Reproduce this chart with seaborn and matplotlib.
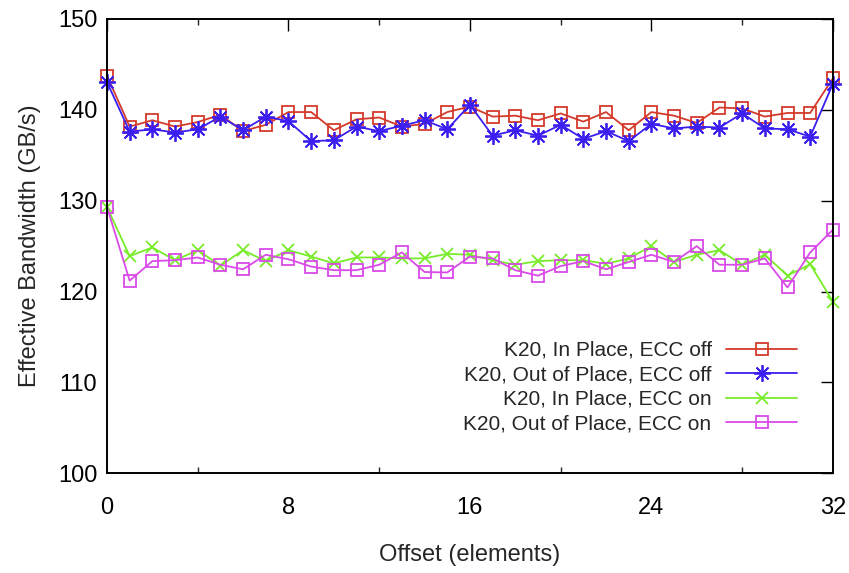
import matplotlib
matplotlib.use("Agg")
import matplotlib.pyplot as plt
import seaborn as sns
from matplotlib.ticker import MultipleLocator

# Offsets (elements) and measured effective bandwidth (GB/s)
offsets = list(range(33))

inplace_ecc_off = [143.75, 138.15, 138.85, 138.15, 138.65, 139.45, 137.65, 138.35, 139.75, 139.75,
                   137.75, 138.95, 139.15, 138.15, 138.45, 139.75, 140.35, 139.25, 139.35, 138.85,
                   139.6, 138.7, 139.75, 137.75, 139.75, 139.35, 138.55, 140.25, 140.15, 139.25,
                   139.65, 139.65, 143.45]
outplace_ecc_off = [143.05, 137.6, 137.85, 137.5, 137.85, 139.25, 137.75, 139.25, 138.75, 136.55,
                    136.65, 138.15, 137.65, 138.25, 138.85, 137.85, 140.55, 137.15, 137.75, 137.15,
                    138.35, 136.8, 137.65, 136.55, 138.45, 137.95, 138.15, 138.05, 139.6, 137.95,
                    137.85, 137.05, 142.85]
inplace_ecc_on = [129.3, 123.9, 124.85, 123.45, 124.55, 122.85, 124.55, 123.35, 124.55, 123.85,
                  123.1, 123.75, 123.75, 123.65, 123.65, 124.15, 124.05, 123.45, 122.95, 123.35,
                  123.45, 123.45, 123.05, 123.65, 125.0, 123.25, 124.05, 124.55, 122.95, 124.05,
                  121.75, 123.0, 118.9]
outplace_ecc_on = [129.3, 121.2, 123.35, 123.45, 123.75, 122.95, 122.45, 124.05, 123.55, 122.75,
                   122.35, 122.35, 122.95, 124.3, 122.15, 122.1, 123.85, 123.65, 122.35, 121.75,
                   122.8, 123.35, 122.45, 123.25, 124.05, 123.25, 125.0, 122.95, 122.95, 123.65,
                   120.45, 124.3, 126.8]

labels = ["K20, In Place, ECC off", "K20, Out of Place, ECC off",
          "K20, In Place, ECC on", "K20, Out of Place, ECC on"]
x_ticks = [0, 8, 16, 24, 32]
y_ticks = [100, 110, 120, 130, 140, 150]

sns.set_style("white")
plt.rcParams["font.family"] = ["Liberation Sans", "DejaVu Sans"]
FS_AXIS = 17
FS_LEG = 15

fig = plt.figure(figsize=(8.49, 5.73), dpi=100)
ax = fig.add_axes([0.126, 0.174, 0.855, 0.793])

asterisk = (8, 2, 0)
styles = [
    (inplace_ecc_off, "#d43a2c", "s", 9),
    (outplace_ecc_off, "#3a1ff0", asterisk, 12),
    (inplace_ecc_on, "#78ec2a", "x", 9),
    (outplace_ecc_on, "#d94ae8", "s", 9),
]

for (vals, color, marker, ms), label in zip(styles, labels):
    sns.lineplot(x=offsets, y=vals, ax=ax, color=color, marker=marker,
                 markersize=ms, markerfacecolor="none", markeredgecolor=color,
                 markeredgewidth=1.3, linewidth=1.3, label=label, clip_on=False,
                 zorder=3)

ax.set_xlim(0, 32)
ax.set_ylim(100, 150)
ax.set_xticks(x_ticks)
ax.set_yticks(y_ticks)
ax.xaxis.set_minor_locator(MultipleLocator(4))

for side in ["left", "right", "top", "bottom"]:
    ax.spines[side].set_visible(True)
    ax.spines[side].set_color("black")
    ax.spines[side].set_linewidth(1.4)
    ax.spines[side].set_zorder(4)

ax.tick_params(axis="both", which="major", direction="in", length=8.5, width=1.0,
               top=True, right=True, labelsize=FS_AXIS, colors="black")
ax.tick_params(axis="x", which="major", pad=17)
ax.tick_params(axis="y", which="major", pad=7)
ax.tick_params(axis="x", which="minor", direction="in", length=4.5, width=1.0,
               top=True, bottom=True)

ax.set_xlabel("Offset (elements)", fontsize=FS_AXIS, labelpad=18)
ax.set_ylabel("Effective Bandwidth (GB/s)", fontsize=FS_AXIS, labelpad=12)

leg = ax.legend(loc="upper right", bbox_to_anchor=(797 / 849, 1 - 341 / 573),
                bbox_transform=fig.transFigure, frameon=False, markerfirst=False,
                fontsize=FS_LEG, handlelength=3.4, handletextpad=0.7,
                labelspacing=0.26, borderpad=0, borderaxespad=0)
for t in leg.get_texts():
    t.set_ha("right")

fig.savefig("out.png", dpi=100)
